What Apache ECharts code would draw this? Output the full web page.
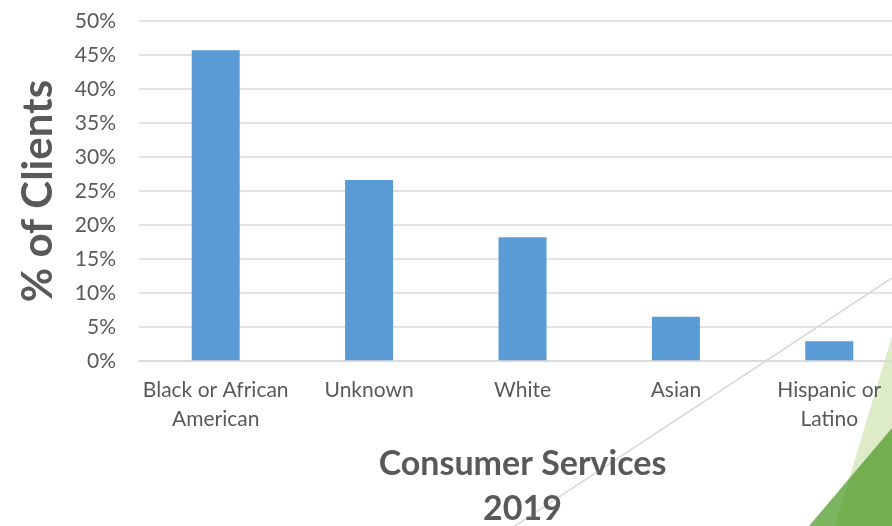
<!DOCTYPE html>
<html>
<head>
<meta charset="utf-8">
<script src="https://cdn.jsdelivr.net/npm/echarts@6/dist/echarts.min.js"></script>
<style>
html,body{margin:0;padding:0;background:#fff;}
#chart{width:892px;height:526px;}
</style>
</head>
<body>
<div id="chart"></div>
<script>
const categories = ['Black or African\nAmerican', 'Unknown', 'White', 'Asian', 'Hispanic or\nLatino'];
const clientShare = [45.7, 26.6, 18.2, 6.5, 2.9];
const yTicks = [0, 5, 10, 15, 20, 25, 30, 35, 40, 45, 50];
const yAxisTitle = '% of Clients';
const xAxisTitle = 'Consumer Services\n2019';

const chart = echarts.init(document.getElementById('chart'), null, {renderer: 'canvas'});
const textColor = '#595959';
const gridColor = '#D9D9D9';

chart.setOption({
  animation: false,
  backgroundColor: '#ffffff',
  grid: {left: 139, top: 21, width: 767, height: 340, containLabel: false, outerBoundsMode: 'none'},
  xAxis: {
    type: 'category',
    data: categories,
    z: 20,
    axisLine: {show: true, lineStyle: {color: gridColor, width: 1.5}},
    axisTick: {show: false},
    axisLabel: {color: textColor, fontFamily: 'Lato', fontSize: 21, lineHeight: 29, margin: 15, interval: 0},
    name: xAxisTitle,
    nameLocation: 'middle',
    nameGap: 81,
    nameTextStyle: {color: textColor, fontFamily: 'Lato', fontWeight: 'bold', fontSize: 34, lineHeight: 45}
  },
  yAxis: {
    type: 'value',
    min: yTicks[0],
    max: yTicks[yTicks.length - 1],
    interval: yTicks[1] - yTicks[0],
    axisLine: {show: false},
    axisTick: {show: false},
    splitLine: {show: true, lineStyle: {color: gridColor, width: 1.5}},
    axisLabel: {color: textColor, fontFamily: 'Lato', fontSize: 21, margin: 23, formatter: v => v + '%'},
    name: yAxisTitle,
    nameLocation: 'middle',
    nameRotate: 90,
    nameGap: 80,
    nameTextStyle: {color: textColor, fontFamily: 'Lato', fontWeight: 'bold', fontSize: 42}
  },
  series: [{
    type: 'bar',
    data: clientShare,
    barWidth: 48,
    itemStyle: {color: '#5B9BD5'}
  }],
  graphic: [
    {type: 'line', shape: {x1: 515, y1: 526, x2: 892, y2: 278}, style: {stroke: '#D9D9D9', lineWidth: 1.5}, z: 1},
    {type: 'polygon', shape: {points: [[892, 336], [835, 526], [892, 526]]}, style: {fill: '#DDEBC7'}, z: 10},
    {type: 'polygon', shape: {points: [[892, 428], [809, 526], [892, 526]]}, style: {fill: 'rgb(70,150,30)', opacity: 0.7}, z: 11}
  ]
});
</script>
</body>
</html>
